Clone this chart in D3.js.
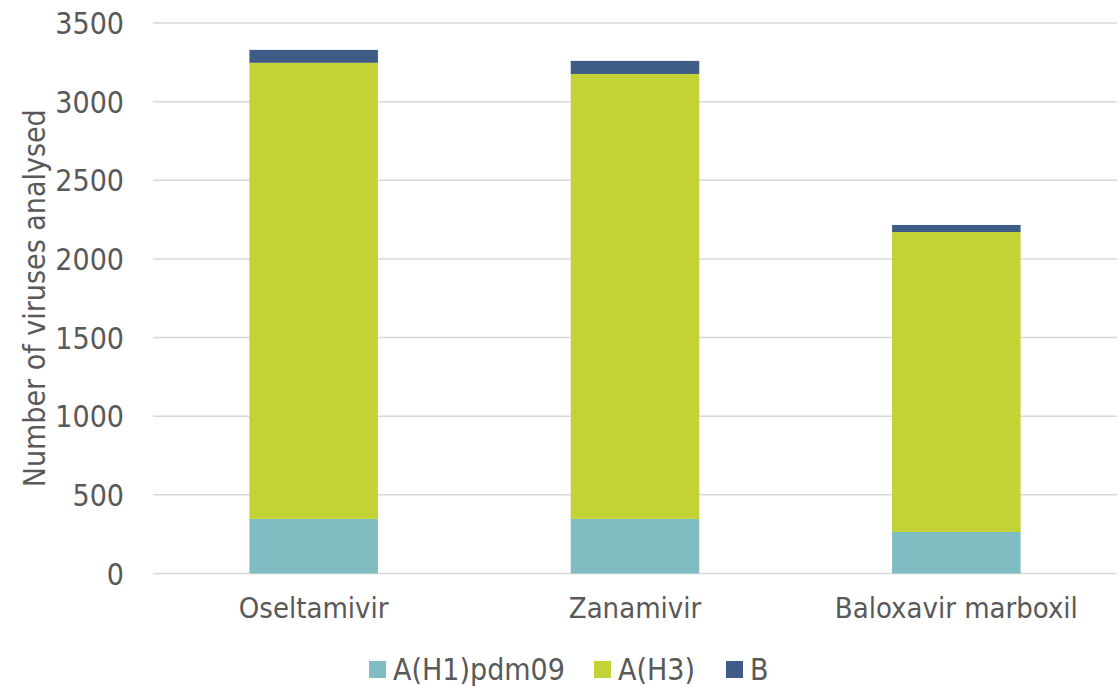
<!DOCTYPE html>
<html>
<head>
<meta charset="utf-8">
<script src="https://cdn.jsdelivr.net/npm/d3@7/dist/d3.min.js"></script>
<style>
  html, body { margin: 0; padding: 0; background: #fff; }
  svg text { font-family: "DejaVu Sans Condensed", "DejaVu Sans", sans-serif; font-stretch: condensed; fill: #595959; }
</style>
</head>
<body>
<svg id="chart" width="1120" height="686"></svg>
<script>
// Antiviral susceptibility testing: viruses analysed per drug, by type/subtype
const drugs = ["Oseltamivir", "Zanamivir", "Baloxavir marboxil"];
const seriesNames = ["A(H1)pdm09", "A(H3)", "B"];
const h1pdm09 = [347, 347, 264];
const h3 = [2900, 2829, 1907];
const typeB = [82, 83, 45];
const yTicks = [0, 500, 1000, 1500, 2000, 2500, 3000, 3500];
const colors = ["#7fbdc2", "#c3d336", "#3e5c85"];

const svg = d3.select("#chart");
const margin = { left: 153, right: 3, top: 23, bottom: 112.5 };
const W = 1120, H = 686;
const FONT = '"DejaVu Sans Condensed", "DejaVu Sans", sans-serif';

const x = d3.scaleBand().domain(drugs).range([margin.left, W - margin.right]).paddingInner(0.6).paddingOuter(0.3);
const y = d3.scaleLinear().domain([0, 3500]).range([H - margin.bottom, margin.top]);

const rows = drugs.map((d, i) => ({ drug: d, "A(H1)pdm09": h1pdm09[i], "A(H3)": h3[i], "B": typeB[i] }));
const stacked = d3.stack().keys(seriesNames)(rows);

// gridlines
svg.append("g")
  .selectAll("line").data(yTicks).join("line")
  .attr("x1", margin.left).attr("x2", W - margin.right)
  .attr("y1", d => y(d)).attr("y2", d => y(d))
  .attr("stroke", "#d9d9d9").attr("stroke-width", 1.5);

// y axis labels
const yAxis = d3.axisLeft(y).tickValues(yTicks).tickFormat(d3.format("d")).tickSize(0).tickPadding(0);
const gy = svg.append("g").attr("transform", `translate(124,0)`).call(yAxis);
gy.select(".domain").remove();
gy.selectAll("text").attr("font-size", 30).attr("fill", "#595959").attr("dy", "0.35em")
  .style("font-family", FONT);

// bars
svg.append("g").selectAll("g").data(stacked).join("g")
  .attr("fill", (d, i) => colors[i])
  .selectAll("rect").data(d => d).join("rect")
  .attr("x", d => x(d.data.drug))
  .attr("width", x.bandwidth())
  .attr("y", d => y(d[1]))
  .attr("height", d => y(d[0]) - y(d[1]));

// x axis labels
const xAxis = d3.axisBottom(x).tickSize(0).tickPadding(0);
const gx = svg.append("g").attr("transform", `translate(0,${y(0) + 24})`).call(xAxis);
gx.select(".domain").remove();
gx.selectAll("text").attr("font-size", 29).attr("fill", "#595959")
  .style("font-family", FONT);

// y axis title
svg.append("text")
  .attr("transform", `translate(45,${(y(0) + y(3500)) / 2}) rotate(-90)`)
  .attr("text-anchor", "middle")
  .attr("font-size", 30)
  .text("Number of viruses analysed");

// legend
const legendX = [369, 594, 726];
const lg = svg.append("g").selectAll("g").data(seriesNames).join("g")
  .attr("transform", (d, i) => `translate(${legendX[i]},661)`);
lg.append("rect").attr("width", 17).attr("height", 17).attr("fill", (d, i) => colors[i]);
lg.append("text").attr("x", 24).attr("y", 8.5).attr("dy", "0.36em").attr("font-size", 30).text(d => d);
</script>
</body>
</html>
